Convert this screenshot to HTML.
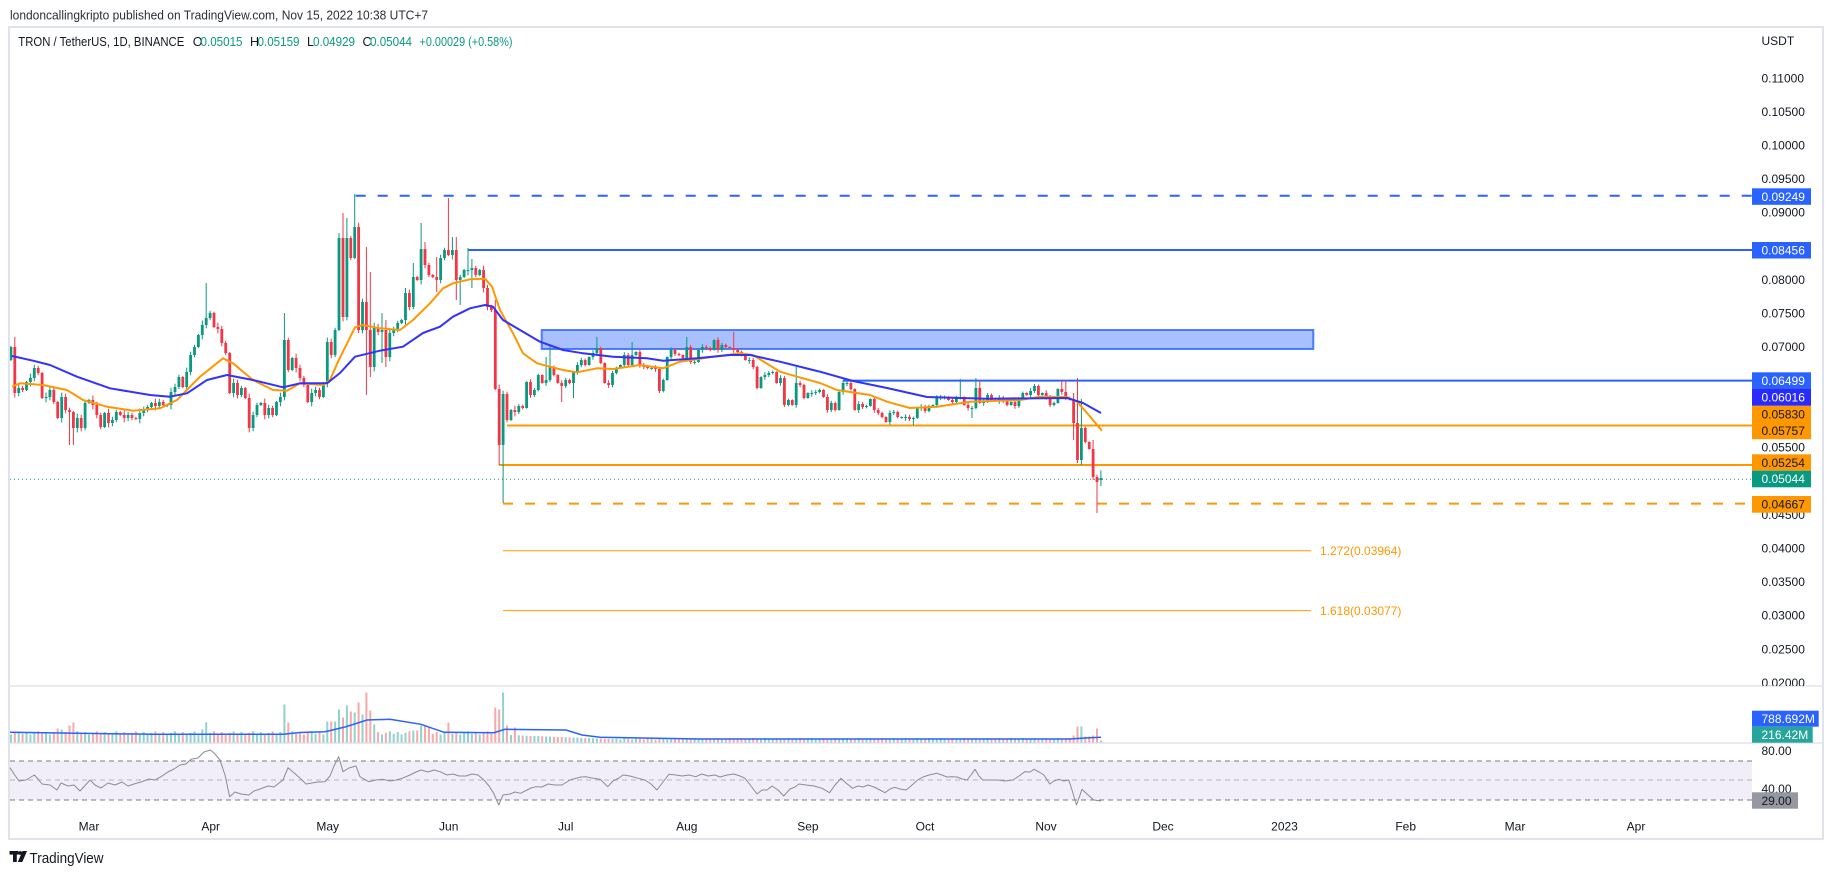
<!DOCTYPE html>
<html><head><meta charset="utf-8">
<style>
html,body{margin:0;padding:0;background:#fff;}
body{width:1834px;height:875px;overflow:hidden;font-family:"Liberation Sans",sans-serif;}
svg{position:absolute;left:0;top:0;}
</style></head><body>
<svg width="1834" height="875" viewBox="0 0 1834 875" font-family="Liberation Sans, sans-serif">
<defs>
<clipPath id="plot"><rect x="10" y="28" width="1742" height="658"/></clipPath>
<clipPath id="axis"><rect x="1752" y="28" width="70" height="658"/></clipPath>
<clipPath id="volc"><rect x="10" y="687" width="1742" height="56"/></clipPath>
</defs>

<!-- header -->
<text x="10" y="19.5" font-size="13" fill="#2a2e39" textLength="418" lengthAdjust="spacingAndGlyphs">londoncallingkripto published on TradingView.com, Nov 15, 2022 10:38 UTC+7</text>

<!-- frame -->
<rect x="9" y="27" width="1814" height="812" fill="#fff" stroke="#e0e3eb" stroke-width="2"/>
<line x1="10" x2="1822" y1="686" y2="686" stroke="#e0e3eb" stroke-width="1.5"/>
<line x1="10" x2="1822" y1="743" y2="743" stroke="#e0e3eb" stroke-width="1.5"/>

<!-- legend line 2 -->
<g font-size="12.5">
<text x="18.3" y="46" fill="#131722" textLength="166" lengthAdjust="spacingAndGlyphs">TRON / TetherUS, 1D, BINANCE</text>
<text x="192.7" y="46" fill="#131722">O</text>
<text x="200.5" y="46" fill="#089981" textLength="42" lengthAdjust="spacingAndGlyphs">0.05015</text>
<text x="250" y="46" fill="#131722">H</text>
<text x="257.5" y="46" fill="#089981" textLength="42" lengthAdjust="spacingAndGlyphs">0.05159</text>
<text x="307" y="46" fill="#131722">L</text>
<text x="313" y="46" fill="#089981" textLength="42" lengthAdjust="spacingAndGlyphs">0.04929</text>
<text x="362.5" y="46" fill="#131722">C</text>
<text x="370" y="46" fill="#089981" textLength="42" lengthAdjust="spacingAndGlyphs">0.05044</text>
<text x="419.5" y="46" fill="#089981" textLength="93" lengthAdjust="spacingAndGlyphs">+0.00029 (+0.58%)</text>
</g>

<!-- plot area -->
<g clip-path="url(#plot)">
  <!-- rectangle zone -->
  <rect x="541.7" y="330" width="771.6" height="19" fill="rgba(41,98,255,0.4)" stroke="#2962ff" stroke-opacity="0.8" stroke-width="2"/>
  <!-- horizontal levels -->
  <line x1="355.7" x2="1752" y1="195.7" y2="195.7" stroke="#2962ff" stroke-width="2" stroke-dasharray="10 12"/>
  <line x1="468" x2="1752" y1="250" y2="250" stroke="#2962ff" stroke-width="2"/>
  <line x1="843" x2="1752" y1="380.6" y2="380.6" stroke="#2962ff" stroke-width="2"/>
  <line x1="507" x2="1752" y1="425.5" y2="425.5" stroke="#ff9800" stroke-width="2"/>
  <line x1="499" x2="1752" y1="465" y2="465" stroke="#ff9800" stroke-width="2"/>
  <line x1="503" x2="1752" y1="503.6" y2="503.6" stroke="#ff9800" stroke-width="2" stroke-dasharray="10 12"/>
  <line x1="503" x2="1311" y1="550.7" y2="550.7" stroke="#ff9800" stroke-width="1"/>
  <line x1="503" x2="1311" y1="610.6" y2="610.6" stroke="#ff9800" stroke-width="1"/>
  <line x1="10" x2="1752" y1="479.3" y2="479.3" stroke="#089981" stroke-width="1" stroke-dasharray="1 3"/>
  <text x="1320" y="555" font-size="12" fill="#ff9800">1.272(0.03964)</text>
  <text x="1320" y="615" font-size="12" fill="#ff9800">1.618(0.03077)</text>
  <!-- candles -->
  <g id="cd"></g>
  <!-- MAs -->
  <polyline fill="none" stroke="#ff9800" stroke-width="2" stroke-linejoin="round" points="12,386.7 20,383.3 43,385 67,390 83,400 107,406.7 133,410.7 160,408.3 177,400 200,376.7 223,358.3 233,363.3 253,380 273,390 287,390.7 300,383.3 323,385 330,380 338,361.7 355,327.3 363,325 380,328.3 400,330 413,320 430,303.3 443,288.3 453,283.3 470,279.3 485,278.7 492,286.7 500,310 513,333.3 523,353.3 537,363.3 563,370 577,372.3 597,368.3 613,369 640,365 663,368.3 680,361.7 713,356.7 740,353.3 753,355 780,371.7 803,378.3 820,383 837,390 870,395 887,401.7 910,408 937,406.7 970,401.7 1020,400 1040,396.7 1067,397 1077,401.7 1087,413 1102,430.7"/>
  <polyline fill="none" stroke="#3232ff" stroke-width="2" stroke-linejoin="round" points="12,356 33,360.7 50,365 77,376.7 110,388.3 150,395 170,396.7 187,393.3 207,380 227,375 253,380 283,387.3 300,383.3 327,383.3 340,373 355,356.7 380,350.7 403,346.7 423,333 440,326.7 453,316.7 470,308.3 485,305 493,306.7 503,320 520,330 540,341.7 563,350 583,353.3 613,356.7 647,358.3 663,360.7 697,358.3 730,355 750,355 780,361.7 813,370 820,371.7 853,381 887,388 927,397 987,398.7 1067,398 1083,403 1101,413"/>
</g>

<!-- volume -->
<g clip-path="url(#volc)">
  <g id="vol"></g>
  <polyline fill="none" stroke="#2962ff" stroke-width="1.5" points="10,732.3 153,734.3 283,734.3 300,732.5 325,731.7 345,727 367,720 390,719.3 421,724.3 444,732.3 494,732.7 505,729.3 566,730 582,735 600,737.3 700,739 1070,739 1085,738 1101,737.3"/>
</g>

<!-- RSI -->
<rect x="10" y="761" width="1742" height="39" fill="rgba(126,87,194,0.1)"/>
<line x1="10" x2="1752" y1="761" y2="761" stroke="#787b86" stroke-width="1" stroke-dasharray="5 4"/>
<line x1="10" x2="1752" y1="780" y2="780" stroke="#b2b5be" stroke-width="1" stroke-dasharray="5 4"/>
<line x1="10" x2="1752" y1="800" y2="800" stroke="#787b86" stroke-width="1" stroke-dasharray="5 4"/>
<polyline fill="none" stroke="#8a8c94" stroke-width="1" stroke-linejoin="round" points="10,767.7 14,774 19,781 26,780 34.4,775 38,779 42,784 50,785 57,790 61,783 68,786 74,785 80,791 90,780 95,785 101,788 108,783 115,785 122,782 128,786 134,784 141,782 149,779 155,780 161,776.7 168,772 174,769 180,765 186,764 191,759.3 198,758 204,752 207,751 210.5,750 215,754 220,760 225,775 229.6,796.7 235,792 241,794 248.8,795 254,791 260,789 268,786 274,787 283,780 288,767.7 293,772 298.5,776.7 306,784 312,783 318,782 325,781.7 330,776 334,766 338.7,756.7 343,771.7 349,768 356,766 360,776.7 364,779 369,781.7 376,780 383,779.3 390,781 396,780 402,778.3 410,775 416,772 421,770 428,772 434,770 440,771.7 447,775 453,774 459,776 466,776 472,774 478,775 484,780 489,786 493.7,793.3 498.7,805 503,795 510,794 515,792 520.5,793.3 527,790 531,788 536,786.7 542,787 548,784 555,785 562,785 570,780 577,778 581,777 585.5,776.7 592,778 600,779.3 604,783 607.7,786.7 613,781 619,778 623,775 630,776 638,778.3 645,780 651,784 657,790 663,782 669,774.3 676,775 682,776 689,775 695.7,776.7 702,774 708,776 714.8,775 720,777 727,775 734,774 740,776 745,778.3 751,786 757,794 762,790 767,790 772,786 778,790 783.7,796 790,789 795,787 799,784 806,785 814,786 822,788.3 829.6,792.7 835,785 841,778.3 846,783 852.6,788.3 858,786 863,787 868,785 874,787 880,790 885,792.7 890,789 894.7,787.3 900,789 906,790 911,786 917.6,780 923,777 929,775 936.8,773.3 942,775 947,777 952,776.7 957,777 962,779 967,780 971,775 975,769.3 979,776 982.7,780 990,780 998,780 1005,781 1013,780 1019,776 1024.8,771.7 1030,772 1034,769.3 1039,772 1044,775 1049.7,784 1054,781 1059,779.3 1064,781 1068.8,780 1072,790 1076.5,805 1082,789.3 1087,794 1093.7,800 1101,801"/>

<!-- price axis -->
<g clip-path="url(#axis)" font-size="12" fill="#131722">
  <text x="1761.5" y="45" >USDT</text>
  <text x="1761.5" y="82.4">0.11000</text>
  <text x="1761.5" y="115.9">0.10500</text>
  <text x="1761.5" y="149.5">0.10000</text>
  <text x="1761.5" y="183">0.09500</text>
  <text x="1761.5" y="216.6">0.09000</text>
  <text x="1761.5" y="283.8">0.08000</text>
  <text x="1761.5" y="317.4">0.07500</text>
  <text x="1761.5" y="351">0.07000</text>
  <text x="1761.5" y="451.7">0.05500</text>
  <text x="1761.5" y="518.9">0.04500</text>
  <text x="1761.5" y="552.5">0.04000</text>
  <text x="1761.5" y="586.1">0.03500</text>
  <text x="1761.5" y="619.7">0.03000</text>
  <text x="1761.5" y="653.3">0.02500</text>
  <text x="1761.5" y="686.9">0.02000</text>
</g>
<g font-size="12">
  <rect x="1752" y="188.3" width="59" height="16.5" fill="#2962ff"/>
  <text x="1761.5" y="200.8" fill="#fff">0.09249</text>
  <rect x="1752" y="242" width="59" height="16.5" fill="#2962ff"/>
  <text x="1761.5" y="254.5" fill="#fff">0.08456</text>
  <rect x="1752" y="372.3" width="59" height="16.7" fill="#2962ff"/>
  <text x="1761.5" y="384.9" fill="#fff">0.06499</text>
  <rect x="1752" y="389" width="59" height="16.8" fill="#2a2aff"/>
  <text x="1761.5" y="401.7" fill="#fff">0.06016</text>
  <rect x="1752" y="405.8" width="59" height="33.4" fill="#ff9800"/>
  <text x="1761.5" y="418.4" fill="#131722">0.05830</text>
  <text x="1761.5" y="435.1" fill="#131722">0.05757</text>
  <rect x="1752" y="454.3" width="59" height="16.4" fill="#ff9800"/>
  <text x="1761.5" y="466.8" fill="#131722">0.05254</text>
  <rect x="1752" y="470.7" width="59" height="16.6" fill="#089981"/>
  <text x="1761.5" y="483.2" fill="#fff">0.05044</text>
  <rect x="1752" y="496" width="59" height="16.7" fill="#ff9800"/>
  <text x="1761.5" y="508.5" fill="#131722">0.04667</text>
  <!-- volume labels -->
  <rect x="1752" y="710.7" width="66.7" height="16" fill="#2962ff"/>
  <text x="1761.5" y="723" fill="#fff">788.692M</text>
  <rect x="1752" y="726.7" width="60.7" height="16" fill="#26a69a"/>
  <text x="1761.5" y="739" fill="#fff">216.42M</text>
  <!-- rsi labels -->
  <text x="1761.5" y="755" fill="#131722">80.00</text>
  <text x="1761.5" y="793" fill="#131722">40.00</text>
  <rect x="1752" y="792.3" width="46" height="16.4" fill="#9598a1"/>
  <text x="1761.5" y="804.8" fill="#131722">29.00</text>
</g>

<!-- time axis -->
<g font-size="12" fill="#131722" text-anchor="middle">
  <text x="89" y="830.3">Mar</text>
  <text x="210.7" y="830.3">Apr</text>
  <text x="327.7" y="830.3">May</text>
  <text x="448.7" y="830.3">Jun</text>
  <text x="565.7" y="830.3">Jul</text>
  <text x="686.8" y="830.3">Aug</text>
  <text x="807.9" y="830.3">Sep</text>
  <text x="925" y="830.3">Oct</text>
  <text x="1046" y="830.3">Nov</text>
  <text x="1163" y="830.3">Dec</text>
  <text x="1284.5" y="830.3">2023</text>
  <text x="1405.7" y="830.3">Feb</text>
  <text x="1515" y="830.3">Mar</text>
  <text x="1636" y="830.3">Apr</text>
</g>

<!-- TradingView logo -->
<g fill="#131722">
  <rect x="9.5" y="851" width="9" height="3.6"/>
  <rect x="13" y="851" width="3.8" height="11"/>
  <circle cx="20.3" cy="853" r="1.9"/>
  <polygon points="22.5,851 27,851 22.3,862 17.8,862"/>
</g>
<text x="29.5" y="863" font-size="14.5" fill="#131722" textLength="74" lengthAdjust="spacingAndGlyphs">TradingView</text>
</svg>

<script>
(function(){
var C=[347,393,388,390,382,378,368,373,398,397,390,402,418,397,410,412,428,418,428,403,
400,405,415,427,413,423,420,412,415,418,415,418,419,413,410,407,403,406,402,405,
405,392,387,377,387,372,355,347,335,325,318,313,327,329,343,353,393,383,395,388,
398,428,415,405,403,415,408,415,402,397,340,370,358,368,378,385,402,393,390,397,
383,342,355,330,238,317,238,258,227,330,302,330,367,327,332,330,357,333,330,323,
320,293,307,277,280,249,265,275,277,280,258,250,255,250,280,277,270,270,268,275,
270,288,307,310,389,445,394,420,410,412,406,408,382,395,390,375,383,380,367,375,
383,386,380,383,372,365,360,365,357,353,348,363,383,385,373,368,365,355,365,355,
352,365,367,368,368,369,391,380,357,350,354,355,358,347,362,362,350,347,348,350,
340,350,345,347,348,350,352,355,360,360,367,388,377,375,373,372,383,378,405,400,
405,383,385,398,393,393,392,390,397,410,403,410,392,383,383,389,410,404,407,406,
399,410,413,417,422,413,412,417,417,417,419,418,408,407,411,406,405,398,397,397,
400,402,398,397,405,408,408,388,403,401,395,400,401,398,401,405,402,406,399,393,
395,391,386,395,393,397,405,403,389,392,398,399,423,460,428,442,449,477,482,478];
var H={"-19":337,30:283,50:313,64:233,65:213,66:218,68:194,71:247,72:272,75:313,76:320,81:288,83:263,85:223,86:242,89:257,92:198,93:237,94:237,97:248,98:259,104:300,117:357,118:344,130:337,139:342,153:337,165:332,181:367,223:379,227:378,228:380,249:380,250:380,252:393,253:378,254:399,257:440,259:470.4};
var L={"-5":445,"-4":445,69:333,71:395,72:377,75:363,76:367,89:292,94:300,95:305,98:288,105:465,106:503,121:402,124:398,211:425,226:418,252:440,253:463,254:465,257:480,258:513,259:486};
var V={"-8":14,"-7":13,"-5":17,"-4":20,29:13,30:20,50:38,51:20,61:21,62:21,63:21,64:33,65:25,66:37,67:31,68:30,69:40,70:28,71:50,72:32,73:18,83:12,84:12,85:17,86:17,87:15,92:20,104:35,105:33,106:50,107:17,109:15,252:7,253:16,254:16,255:6,256:6,257:7,258:14,259:2};
var g='',v='',prev=360;
for(var i=0;i<C.length;i++){
  var d=i-20,x=89+3.907*d,o=(d==259)?480.1:prev,c=C[i];
  var up=c<=o;
  var top=Math.min(o,c),bot=Math.max(o,c);
  if(bot-top<1){bot=top+1;}
  var k=d<110?1.1:0.7;
  var hi=(H[d]!==undefined)?H[d]:top-k*(1+((i*7)%4));
  var lo=(L[d]!==undefined)?L[d]:bot+k*(1+((i*11)%4));
  var col=up?'#089981':'#f23645';
  g+='<line x1="'+x.toFixed(1)+'" x2="'+x.toFixed(1)+'" y1="'+hi+'" y2="'+lo+'" stroke="'+col+'" stroke-width="1"/>';
  g+='<rect x="'+(x-1.4).toFixed(1)+'" y="'+top+'" width="2.8" height="'+(bot-top)+'" fill="'+col+'"/>';
  var h;
  if(V[d]!==undefined){h=V[d];}
  else if(d<104){h=8+((i*7)%5)*0.8;}
  else if(d<135){h=Math.max(3.5,8-(d-104)*0.15)+((i*3)%3)*0.6;}
  else {h=3+((i*5)%3)*0.7;}
  var vc=up?'rgba(38,166,154,0.5)':'rgba(239,83,80,0.5)';
  v+='<rect x="'+(x-1).toFixed(1)+'" y="'+(742.5-h).toFixed(1)+'" width="2" height="'+h.toFixed(1)+'" fill="'+vc+'"/>';
  prev=c;
}
document.getElementById('cd').innerHTML=g;
document.getElementById('vol').innerHTML=v;
})();
</script>
</body></html>
